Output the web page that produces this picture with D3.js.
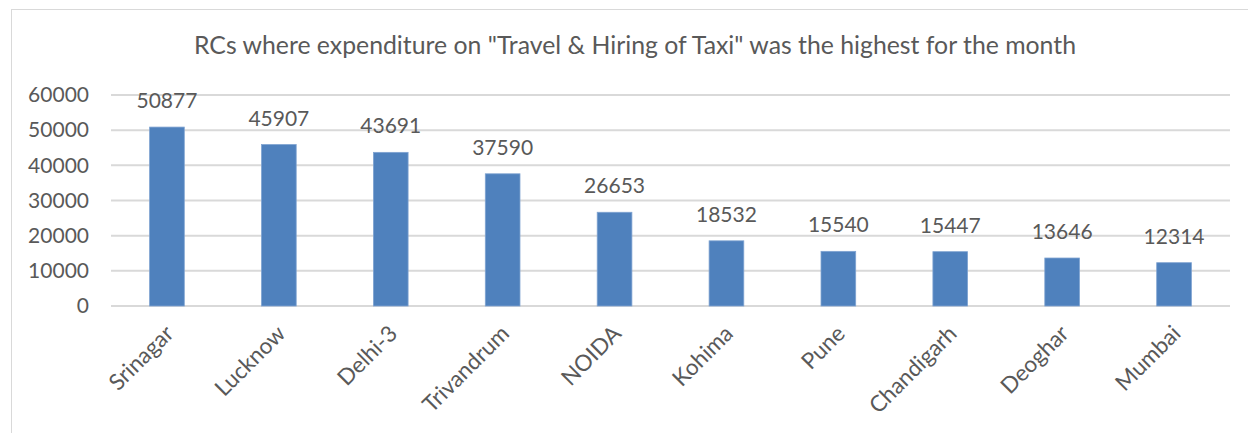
<!DOCTYPE html>
<html>
<head>
<meta charset="utf-8">
<script src="https://cdn.jsdelivr.net/npm/d3@7"></script>
<style>
  body { margin: 0; background: #fff; }
  text { font-family: Lato, "Open Sans", sans-serif; fill: #595959; }
</style>
</head>
<body>
<div id="chart"></div>
<script>
// values
const rcs = ['Srinagar', 'Lucknow', 'Delhi-3', 'Trivandrum', 'NOIDA', 'Kohima', 'Pune', 'Chandigarh', 'Deoghar', 'Mumbai'];
const expenditure = [50877, 45907, 43691, 37590, 26653, 18532, 15540, 15447, 13646, 12314];
const yTicks = [0, 10000, 20000, 30000, 40000, 50000, 60000];
const title = 'RCs where expenditure on "Travel & Hiring of Taxi" was the highest for the month';

const w = 1248, h = 433;
const margin = {top: 95, right: 18, bottom: 127, left: 111};

const svg = d3.select('#chart').append('svg')
  .attr('width', w)
  .attr('height', h);

// chart area border (runs off right / bottom edges like the screenshot)
svg.append('rect')
  .attr('x', 11.5).attr('y', 9.5)
  .attr('width', w + 20).attr('height', h + 20)
  .attr('fill', 'none')
  .attr('stroke', '#d9d9d9');

svg.append('text')
  .attr('x', 635)
  .attr('y', 54)
  .attr('text-anchor', 'middle')
  .style('font-size', '24.8px')
  .text(title);

const x = d3.scaleBand()
  .domain(rcs)
  .range([margin.left, w - margin.right])
  .paddingInner(0.69)
  .paddingOuter(0.345);

const y = d3.scaleLinear()
  .domain([0, 60000])
  .range([h - margin.bottom, margin.top]);

//gridlines
svg.append('g')
  .selectAll('line')
  .data(yTicks)
  .enter()
  .append('line')
  .attr('x1', margin.left)
  .attr('x2', w - margin.right)
  .attr('y1', d => y(d))
  .attr('y2', d => y(d))
  .attr('stroke', '#d9d9d9')
  .attr('stroke-width', 2);

const yAxis = svg.append('g')
  .attr('transform', `translate(${margin.left - 22}, 0)`)
  .call(d3.axisLeft(y).tickValues(yTicks).tickFormat(d3.format('d')).tickSize(0).tickPadding(0));
yAxis.select('.domain').remove();
yAxis.selectAll('text')
  .style('font-size', '21px')
  .attr('fill', '#595959');

svg.append('g')
  .selectAll('rect')
  .data(expenditure)
  .enter()
  .append('rect')
  .attr('x', (d, i) => x(rcs[i]))
  .attr('y', d => y(d))
  .attr('width', x.bandwidth())
  .attr('height', d => y(0) - y(d))
  .attr('fill', '#4f81bd')
  .attr('stroke', '#7fa3d1')
  .attr('stroke-width', 0.8);

// value labels
svg.append('g')
  .selectAll('text')
  .data(expenditure)
  .enter()
  .append('text')
  .attr('x', (d, i) => x(rcs[i]) + x.bandwidth() / 2)
  .attr('y', d => y(d) - 19)
  .attr('text-anchor', 'middle')
  .style('font-size', '21px')
  .text(d => d);

// rotated category labels
const xAxis = svg.append('g')
  .attr('transform', `translate(0, ${y(0)})`)
  .call(d3.axisBottom(x).tickSize(0).tickPadding(0));
xAxis.select('.domain').remove();
xAxis.selectAll('text')
  .style('font-size', '22.5px')
  .attr('fill', '#595959')
  .attr('text-anchor', 'end')
  .attr('dy', null)
  .attr('transform', 'translate(8, 29) rotate(-45)');
</script>
</body>
</html>
